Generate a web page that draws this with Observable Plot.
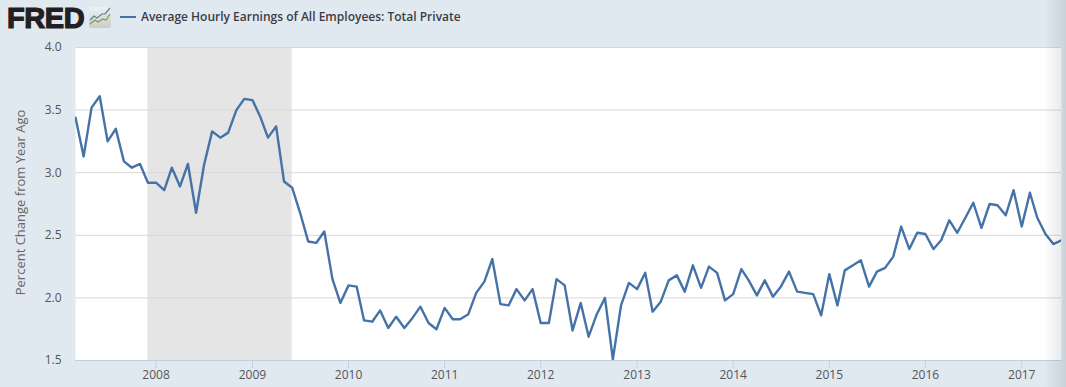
<!DOCTYPE html>
<html><head><meta charset="utf-8">
<script src="https://cdn.jsdelivr.net/npm/d3@7"></script>
<script src="https://cdn.jsdelivr.net/npm/@observablehq/plot@0.6"></script>
<style>
html,body{margin:0;padding:0;background:#e1e9f0;width:1066px;height:387px;overflow:hidden}
#head{position:absolute;left:0;top:0;width:1066px;height:34px}
#fred{position:absolute;left:7px;top:2px;font:900 29px "Liberation Sans",Arial,sans-serif;color:#231f20;letter-spacing:-.4px;-webkit-text-stroke:1.2px #231f20}
#icon{position:absolute;left:89px;top:7px}
#key{position:absolute;left:120px;top:16px;width:16px;height:2px;background:#4572a7}
#title{position:absolute;left:141px;top:8px;font:600 12px "Open Sans",sans-serif;color:#3c3c46;white-space:nowrap}
#chart{position:absolute;left:0;top:0}
#fade{position:absolute;left:1044px;top:0;width:22px;height:387px;background:linear-gradient(to right,rgba(60,70,80,0),rgba(60,70,80,.14));pointer-events:none}
</style></head><body>
<div id="chart"></div>
<div id="head">
<div id="fred">FRED</div>
<svg id="icon" width="22" height="21"><defs><linearGradient id="g" x1="0" y1="0" x2="0" y2="1"><stop offset="0" stop-color="#eef1f3"/><stop offset="1" stop-color="#c9ccc8"/></linearGradient></defs><rect width="22" height="21" rx="2" fill="url(#g)"/><path d="M1 13 L5 9 L8 11 L13 7 L16 7 L21 1" fill="none" stroke="#5b7f9e" stroke-width="1.2"/><path d="M1 17 L6 13 L9 15 L14 12 L17 13 L21 7" fill="none" stroke="#7d9c4c" stroke-width="1.2"/></svg>
<div id="key"></div>
<div id="title">Average Hourly Earnings of All Employees: Total Private</div>
</div>
<div id="fade"></div>
<script>
const startYear = 2007, startMonth = 2;
const values = [
3.44,3.13,3.52,3.61,3.25,3.35,3.09,3.04,3.07,2.92,
2.92,2.86,3.04,2.89,3.07,2.68,3.06,3.33,3.28,3.32,3.50,3.59,
3.58,3.44,3.28,3.37,2.93,2.88,2.68,2.45,2.44,2.53,2.15,1.96,
2.10,2.09,1.82,1.81,1.90,1.76,1.85,1.76,1.84,1.93,1.80,1.75,
1.92,1.83,1.83,1.87,2.04,2.13,2.31,1.95,1.94,2.07,1.98,2.07,
1.80,1.80,2.15,2.10,1.74,1.96,1.69,1.87,2.00,1.51,1.94,2.12,
2.07,2.20,1.89,1.97,2.14,2.18,2.05,2.26,2.08,2.25,2.20,1.98,
2.03,2.23,2.14,2.02,2.14,2.01,2.09,2.21,2.05,2.04,2.03,1.86,
2.19,1.94,2.22,2.26,2.30,2.09,2.21,2.24,2.33,2.57,2.39,2.52,
2.51,2.39,2.46,2.62,2.52,2.64,2.76,2.56,2.75,2.74,2.66,2.86,
2.57,2.84,2.64,2.51,2.43,2.46];
const yTicks = [1.5,2.0,2.5,3.0,3.5,4.0];
const xYears = [2008,2009,2010,2011,2012,2013,2014,2015,2016,2017];
const recessionStart = new Date(2007,11,1), recessionEnd = new Date(2009,5,1);
const table = values.map((v,i)=>({date:new Date(startYear,startMonth+i,1),value:v}));
const xTicks = xYears.map(y=>new Date(y,0,1));
const xDomain = [table[0].date, table[table.length-1].date];
const font = '"Open Sans",sans-serif';
const plot = Plot.plot({
  width:1066,height:387,
  marginLeft:75,marginRight:5,marginTop:47,marginBottom:27,
  style:{background:"transparent",fontFamily:font,overflow:"visible"},
  x:{type:"time",domain:xDomain,label:null},
  y:{domain:[1.5,4],label:null},
  marks:[
    Plot.frame({fill:"#fff",stroke:null}),
    Plot.rectY([0],{x1:()=>recessionStart,x2:()=>recessionEnd,y1:1.5,y2:4,fill:"#e5e5e5"}),
    Plot.ruleY(yTicks.slice(1),{stroke:"#d8d8d8",strokeWidth:1}),
    Plot.ruleY([1.5],{stroke:"#c0d0e0",strokeWidth:1}),
    Plot.line(table,{x:"date",y:"value",stroke:"#4572a7",strokeWidth:2.4,clip:true}),
    Plot.axisX({ticks:xTicks,tickFormat:d=>String(d.getFullYear()),tickSize:8,stroke:"#c0d0e0",tickPadding:2,fontSize:12,fill:"#555",label:null}),
    Plot.axisY({ticks:yTicks,tickFormat:d=>d.toFixed(1),tickSize:0,tickPadding:14,fontSize:12,fill:"#555",label:null}),
    Plot.text(["Percent Change from Year Ago"],{frameAnchor:"left",textAnchor:"middle",dx:-54.5,dy:-1.5,rotate:-90,fontSize:13,fill:"#666"})
  ]
});
document.getElementById("chart").appendChild(plot);
</script>
</body></html>
